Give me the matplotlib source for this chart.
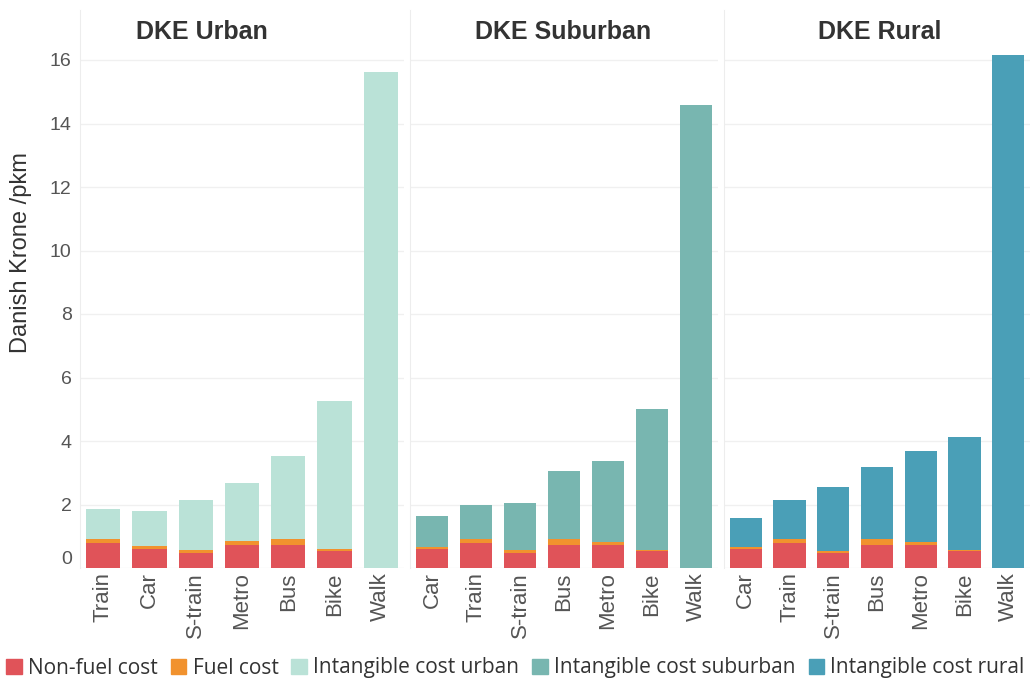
from matplotlib import pyplot as plt
from matplotlib import transforms
from matplotlib.patches import Patch
import numpy as np

# modes per panel (order as shown)
urban_modes = ["Train", "Car", "S-train", "Metro", "Bus", "Bike", "Walk"]
suburban_modes = ["Car", "Train", "S-train", "Bus", "Metro", "Bike", "Walk"]
rural_modes = ["Car", "Train", "S-train", "Bus", "Metro", "Bike", "Walk"]

# Danish Krone / pkm
urban_nonfuel = [0.80, 0.59, 0.46, 0.73, 0.73, 0.54, 0.0]
urban_fuel = [0.10, 0.09, 0.11, 0.11, 0.17, 0.05, 0.0]
urban_intangible = [0.97, 1.12, 1.57, 1.84, 2.63, 4.66, 15.62]

suburban_nonfuel = [0.59, 0.80, 0.46, 0.72, 0.72, 0.52, 0.0]
suburban_fuel = [0.08, 0.12, 0.11, 0.20, 0.10, 0.05, 0.0]
suburban_intangible = [0.97, 1.05, 1.48, 2.15, 2.54, 4.45, 14.57]

rural_nonfuel = [0.59, 0.80, 0.46, 0.73, 0.73, 0.53, 0.0]
rural_fuel = [0.08, 0.10, 0.09, 0.17, 0.09, 0.04, 0.0]
rural_intangible = [0.90, 1.24, 1.99, 2.27, 2.88, 3.57, 16.15]

titles = ["DKE Urban", "DKE Suburban", "DKE Rural"]
c_nonfuel = "#E05359"
c_fuel = "#F1922E"
c_urban = "#BAE2D7"
c_suburban = "#78B6B0"
c_rural = "#4A9FB7"

plt.rcParams["font.family"] = "Liberation Sans"

fig = plt.figure(figsize=(10.3, 6.84), dpi=100)
W, H = 1030, 684
y0, y1 = 568, 10
px_per_unit = 31.75
ytop = (y0 - y1) / px_per_unit

panels = [
    (80, 404, urban_modes, urban_nonfuel, urban_fuel, urban_intangible, c_urban, 202),
    (410, 718, suburban_modes, suburban_nonfuel, suburban_fuel, suburban_intangible, c_suburban, 563),
    (724, 1030, rural_modes, rural_nonfuel, rural_fuel, rural_intangible, c_rural, 880),
]

for i, (xl, xr, modes, nf, fu, it, col, tx) in enumerate(panels):
    ax = fig.add_axes([xl / W, (H - y0) / H, (xr - xl) / W, (y0 - y1) / H])
    x = np.arange(len(modes))
    nf = np.array(nf)
    fu = np.array(fu)
    it = np.array(it)
    ax.bar(x, nf, width=0.74, color=c_nonfuel, zorder=3)
    ax.bar(x, fu, width=0.74, bottom=nf, color=c_fuel, zorder=3)
    ax.bar(x, it, width=0.74, bottom=nf + fu, color=col, zorder=3)
    ax.set_xlim(-0.5, len(modes) - 0.5)
    ax.set_ylim(0, ytop)
    ax.set_yticks(np.arange(0, 17, 2))
    ax.grid(axis="y", color="#f0f0f0", linewidth=1, zorder=0)
    ax.set_xticks(x)
    ax.set_xticklabels(modes, rotation=90, fontsize=16, color="#555555")
    ax.tick_params(axis="x", length=0, pad=3)
    ax.tick_params(axis="y", length=0, labelsize=14, labelcolor="#555555", pad=6)
    if i > 0:
        ax.set_yticklabels([])
    else:
        # the zero label sits a little above the baseline
        lab0 = ax.get_yticklabels()[0]
        lab0.set_transform(lab0.get_transform() +
                           transforms.ScaledTranslation(0, 10 / 100, fig.dpi_scale_trans))
    for s in ["top", "right", "bottom"]:
        ax.spines[s].set_visible(False)
    ax.spines["left"].set_color("#ededed")
    fig.text(tx / W, (H - 32) / H, titles[i], ha="center", va="center",
             fontsize=18, fontweight="bold", color="#333333")

fig.text(21 / W, (H - 253) / H, "Danish Krone /pkm", rotation=90, ha="center",
         va="center", fontsize=17, color="#333333")

handles = [Patch(color=c_nonfuel), Patch(color=c_fuel), Patch(color=c_urban),
           Patch(color=c_suburban), Patch(color=c_rural)]
labels = ["Non-fuel cost", "Fuel cost", "Intangible cost urban",
          "Intangible cost suburban", "Intangible cost rural"]
fig.legend(handles, labels, loc="center left", bbox_to_anchor=(0.0, (H - 668) / H),
           ncol=5, frameon=False, handlelength=0.75, handleheight=0.75,
           handletextpad=0.3, columnspacing=0.62, borderaxespad=0, borderpad=0.3,
           prop={"family": "Open Sans", "size": 15}, labelcolor="#333333")

fig.savefig("out.png", dpi=100)
